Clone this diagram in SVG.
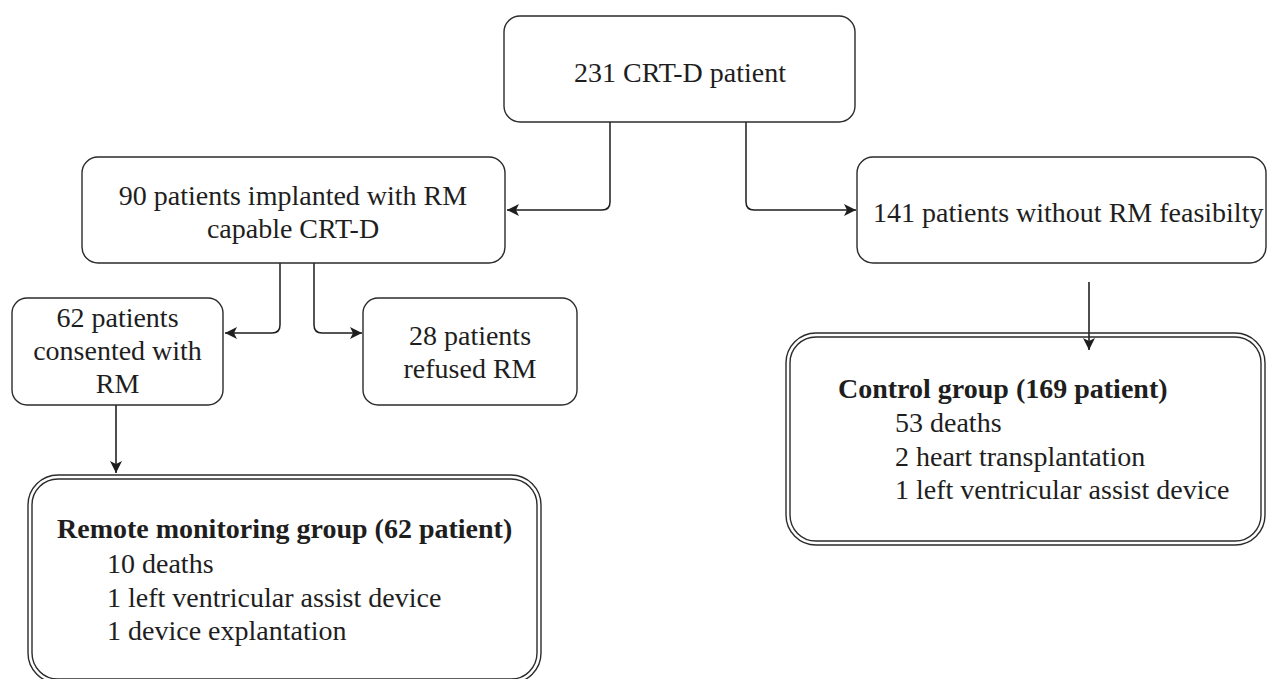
<svg xmlns="http://www.w3.org/2000/svg" width="1267" height="679" viewBox="0 0 1267 679">
<style>
.box{fill:#fff;stroke:#2b2b2b;stroke-width:1.4}
.dbl{fill:none;stroke:#2b2b2b;stroke-width:1.4}
.t{font-family:"Liberation Serif","Times New Roman",serif;font-size:28px;fill:#1e1e1e}
.c{text-anchor:middle}
.b{font-weight:bold}
.conn{fill:none;stroke:#1e1e1e;stroke-width:1.5}
.vconn{fill:none;stroke:#3a3a3a;stroke-width:1.8}
</style>
<defs>
<marker id="arr" markerWidth="12" markerHeight="12" refX="10" refY="5" orient="auto" markerUnits="userSpaceOnUse" viewBox="0 0 10 10">
<path d="M0,0 L10,5 L0,10 L2.5,5 z" fill="#1e1e1e"/>
</marker>
</defs>
<rect width="1267" height="679" fill="#fff"/>
<g id="connectors">
<path class="conn" d="M610,122 V202 Q610,210 602,210 H507" marker-end="url(#arr)"/>
<path class="conn" d="M746,122 V202 Q746,210 754,210 H856" marker-end="url(#arr)"/>
<path class="conn" d="M280,263 V325 Q280,333 272,333 H225" marker-end="url(#arr)"/>
<path class="conn" d="M314,263 V325 Q314,333 322,333 H362" marker-end="url(#arr)"/>
<path class="vconn" d="M116,405 V473" marker-end="url(#arr)"/>
<path class="vconn" d="M1089,282 V350" marker-end="url(#arr)"/>
</g>
<g id="n-total">
<rect class="box" x="504" y="16" width="351" height="106" rx="16"/>
<text class="t c" x="680" y="82">231 CRT-D patient</text>
</g>
<g id="n-rm-capable">
<rect class="box" x="82" y="157" width="423" height="106" rx="16"/>
<text class="t c" x="293" y="205">90 patients implanted with RM</text>
<text class="t c" x="293" y="238">capable CRT-D</text>
</g>
<g id="n-no-rm">
<rect class="box" x="857" y="157" width="409" height="106" rx="16"/>
<text class="t" x="873" y="222">141 patients without RM feasibilty</text>
</g>
<g id="n-consented">
<rect class="box" x="12" y="298" width="211" height="107" rx="15"/>
<text class="t c" x="117.5" y="327">62 patients</text>
<text class="t c" x="117.5" y="360">consented with</text>
<text class="t c" x="117.5" y="393">RM</text>
</g>
<g id="n-refused">
<rect class="box" x="363" y="298" width="214" height="107" rx="15"/>
<text class="t c" x="470" y="345">28 patients</text>
<text class="t c" x="470" y="378">refused RM</text>
</g>
<g id="n-rm-group">
<rect class="dbl" x="28" y="475" width="513" height="208" rx="30"/>
<rect class="dbl" x="32" y="479" width="505" height="200" rx="26"/>
<text class="t b" x="57" y="538">Remote monitoring group (62 patient)</text>
<text class="t" x="107" y="573">10 deaths</text>
<text class="t" x="107" y="607">1 left ventricular assist device</text>
<text class="t" x="107" y="640">1 device explantation</text>
</g>
<g id="n-control-group">
<rect class="dbl" x="786" y="333" width="479" height="212" rx="30"/>
<rect class="dbl" x="790" y="337" width="471" height="204" rx="26"/>
<text class="t b" x="838" y="398">Control group (169 patient)</text>
<text class="t" x="895" y="432">53 deaths</text>
<text class="t" x="895" y="466">2 heart transplantation</text>
<text class="t" x="895" y="499">1 left ventricular assist device</text>
</g>
</svg>
